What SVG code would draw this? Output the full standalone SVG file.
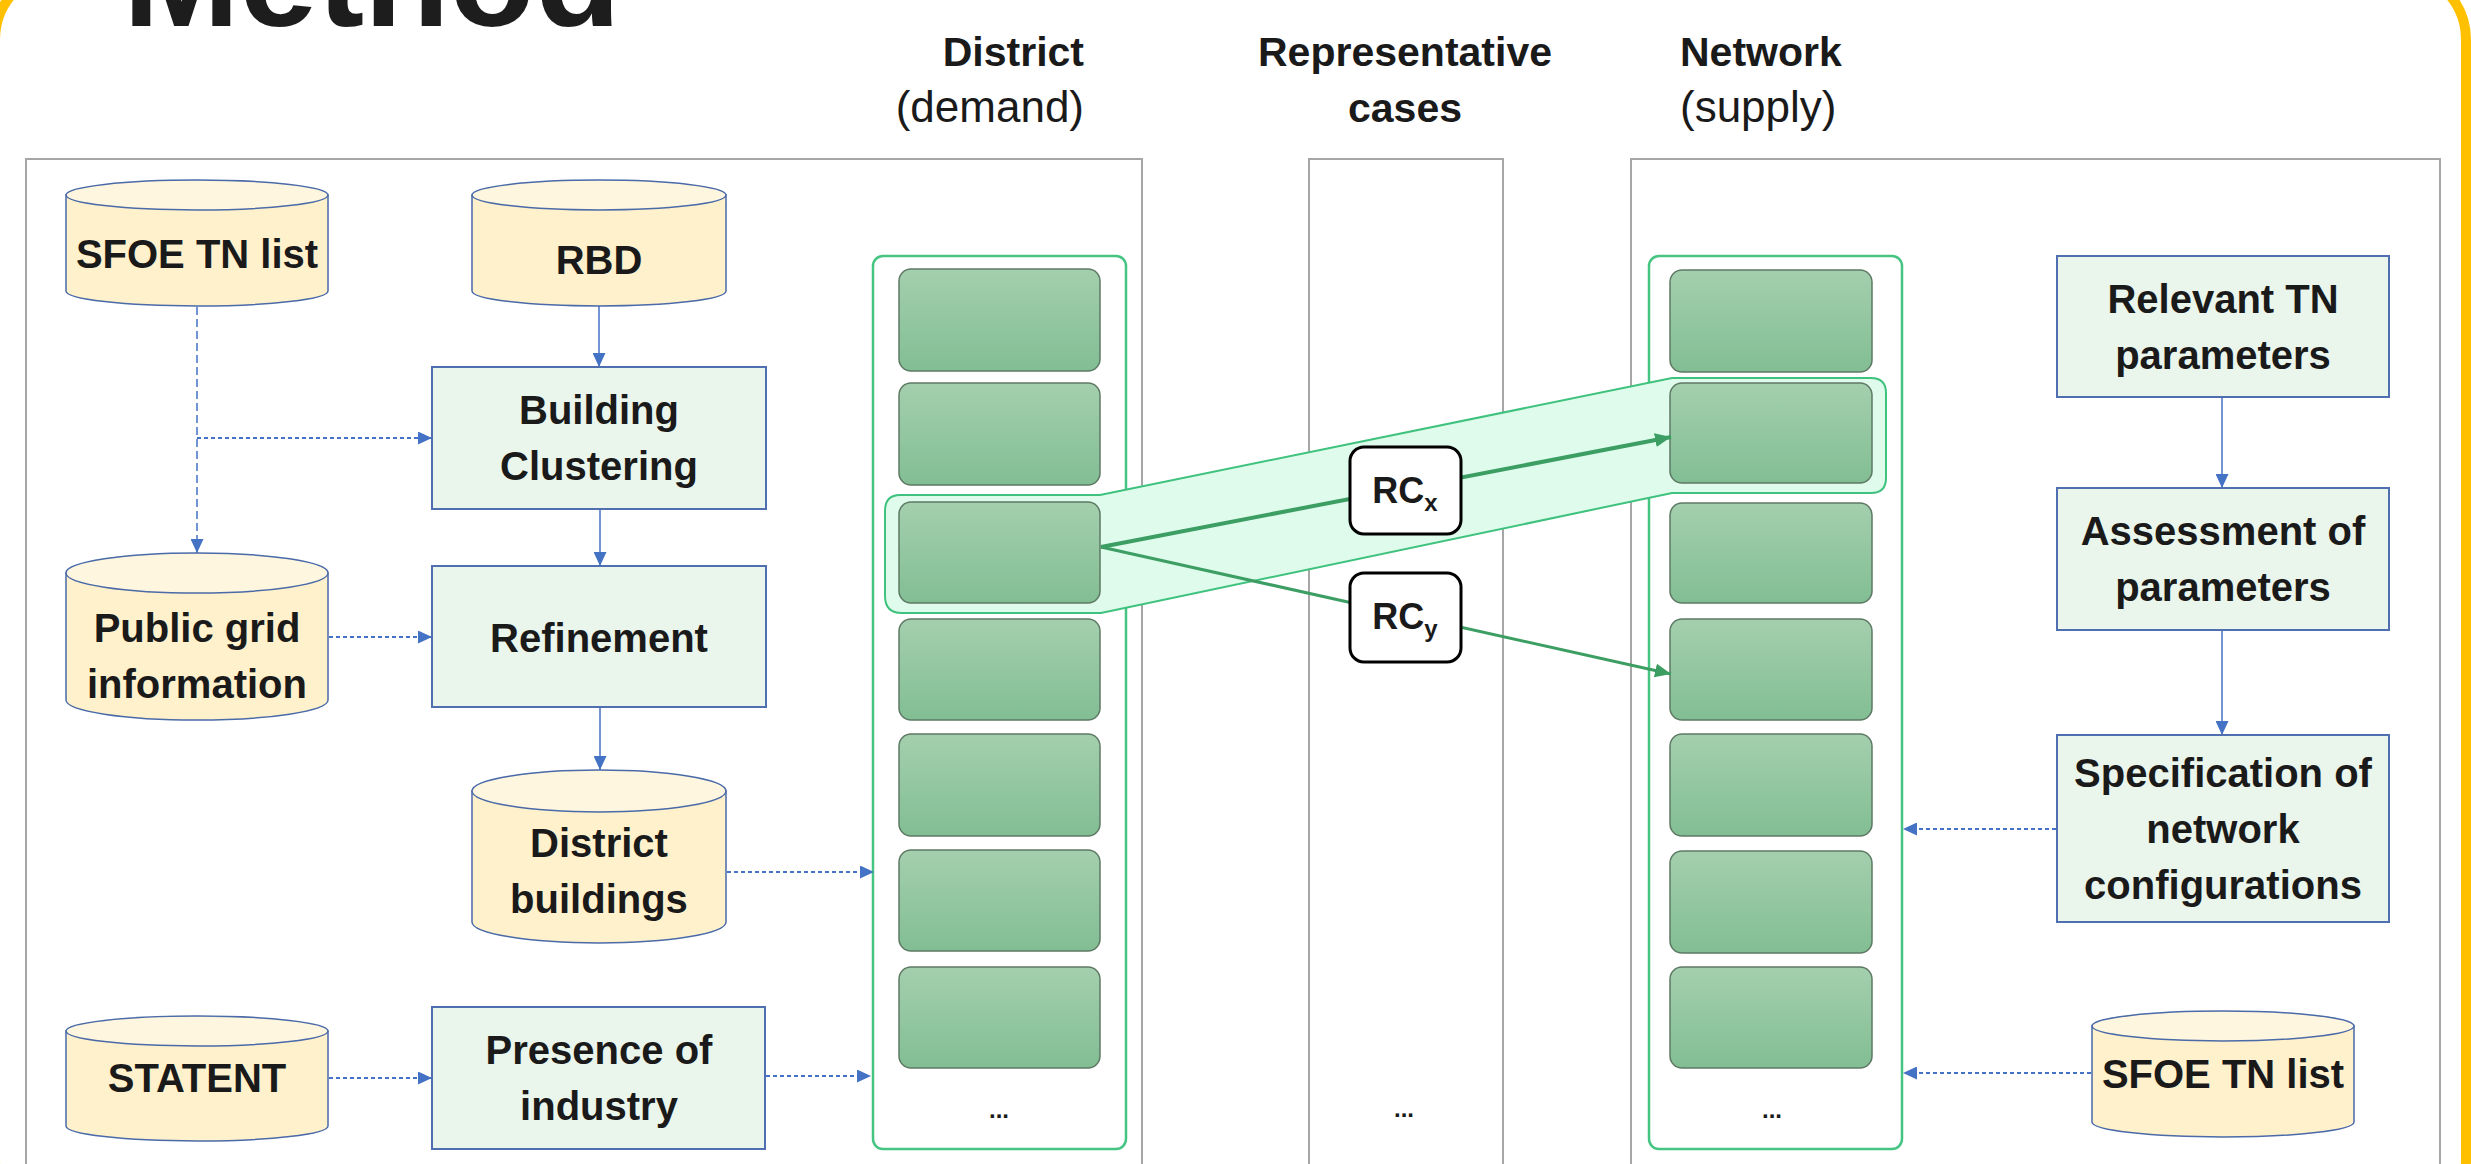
<svg xmlns="http://www.w3.org/2000/svg" width="2471" height="1164" viewBox="0 0 2471 1164">
<defs>
<linearGradient id="gr" x1="0" y1="0" x2="0" y2="1">
<stop offset="0" stop-color="#A4CFAE"/>
<stop offset="1" stop-color="#82BE93"/>
</linearGradient>
<marker id="ab" markerUnits="userSpaceOnUse" viewBox="0 0 14 13" markerWidth="14" markerHeight="13" refX="14" refY="6.5" orient="auto">
<path d="M0,0 L14,6.5 L0,13 Z" fill="#4472C4"/>
</marker>
<marker id="ag" markerUnits="userSpaceOnUse" viewBox="0 0 16 14" markerWidth="16" markerHeight="14" refX="16" refY="7" orient="auto">
<path d="M0,0 L16,7 L0,14 Z" fill="#3C9E63"/>
</marker>
<style>
.t{font-family:"Liberation Sans",Arial,sans-serif;font-weight:bold;fill:#1a1a1a;text-anchor:middle}
.b{font-size:40px}
.d{font-size:24px}
.rct{font-size:36px}
.sub{font-size:24px}
.h{font-family:"Liberation Sans",Arial,sans-serif;font-size:41px;fill:#1a1a1a;font-weight:bold}
.hr{font-family:"Liberation Sans",Arial,sans-serif;font-size:44px;fill:#1a1a1a;font-weight:normal}
.cyl{fill:#FFF1CC;stroke:#4A6AA8;stroke-width:1.5}
.cyt{fill:#FFF6DF;stroke:#4A6AA8;stroke-width:1.5}
.proc{fill:#EAF5EC;stroke:#4F6FB0;stroke-width:2}
.outer{fill:#fff;stroke:#A6A6A6;stroke-width:2}
.frame{fill:#fff;stroke:#45C482;stroke-width:2.5}
.cell{fill:url(#gr);stroke:#5E7A64;stroke-width:1.5}
.sol{stroke:#4472C4;stroke-width:1.5;fill:none;marker-end:url(#ab)}
.dot{stroke:#4472C4;stroke-width:2;fill:none;stroke-dasharray:4 3;marker-end:url(#ab)}
.dash{stroke:#4472C4;stroke-width:1.5;fill:none;stroke-dasharray:8 4}
.grn{stroke:#3C9E63;fill:none;marker-end:url(#ag)}
.rc{fill:#fff;stroke:#000;stroke-width:3}
</style>
</defs>
<rect width="2471" height="1164" fill="#fff"/>
<rect x="-5" y="-30" width="2471" height="1260" rx="70" ry="70" fill="none" stroke="#FFC000" stroke-width="10"/>
<text x="123" y="26" font-family="Liberation Sans,Arial,sans-serif" font-weight="bold" font-size="140" fill="#1d1d1d">Method</text>

<g id="headers">
<text class="h" x="1084" y="66" text-anchor="end">District</text>
<text class="hr" x="1084" y="122" text-anchor="end">(demand)</text>
<text class="h" x="1405" y="66" text-anchor="middle">Representative</text>
<text class="h" x="1405" y="122" text-anchor="middle">cases</text>
<text class="h" x="1680" y="66">Network</text>
<text class="hr" x="1680" y="122">(supply)</text>
</g>

<g id="panels">
<rect class="outer" x="26" y="159" width="1116" height="1060"/>
<rect class="outer" x="1309" y="159" width="194" height="1060"/>
<rect class="outer" x="1631" y="159" width="809" height="1060"/>
<rect class="frame" x="873" y="256" width="253" height="893" rx="10"/>
<rect class="frame" x="1649" y="256" width="253" height="893" rx="10"/>
</g>

<g id="band">
<path d="M900,495 L1100,495 L1672,378 L1871,378 Q1886,378 1886,393 L1886,478 Q1886,493 1871,493 L1672,493 L1101,613 L902,613 Q885,613 885,596 L885,511 Q885,495 900,495 Z" fill="#DEFBEC" stroke="#3FC27E" stroke-width="2"/>
</g>

<g id="district-cells">
<rect class="cell" x="899" y="269" width="201" height="102" rx="12"/>
<rect class="cell" x="899" y="383" width="201" height="102" rx="12"/>
<rect class="cell" x="899" y="502" width="201" height="101" rx="12"/>
<rect class="cell" x="899" y="619" width="201" height="101" rx="12"/>
<rect class="cell" x="899" y="734" width="201" height="102" rx="12"/>
<rect class="cell" x="899" y="850" width="201" height="101" rx="12"/>
<rect class="cell" x="899" y="967" width="201" height="101" rx="12"/>
<text class="t d" x="999" y="1118">...</text>
</g>
<g id="network-cells">
<rect class="cell" x="1670" y="270" width="202" height="102" rx="12"/>
<rect class="cell" x="1670" y="383" width="202" height="100" rx="12"/>
<rect class="cell" x="1670" y="503" width="202" height="100" rx="12"/>
<rect class="cell" x="1670" y="619" width="202" height="101" rx="12"/>
<rect class="cell" x="1670" y="734" width="202" height="102" rx="12"/>
<rect class="cell" x="1670" y="851" width="202" height="102" rx="12"/>
<rect class="cell" x="1670" y="967" width="202" height="101" rx="12"/>
<text class="t d" x="1772" y="1118">...</text>
</g>
<text class="t d" x="1404" y="1117">...</text>

<g id="connectors">
<line class="sol" x1="599" y1="306" x2="599" y2="367"/>
<line class="sol" x1="600" y1="509" x2="600" y2="566"/>
<line class="sol" x1="600" y1="707" x2="600" y2="770"/>
<line class="dash" x1="197" y1="307" x2="197" y2="540"/>
<path d="M197,540 L197,553" stroke="#4472C4" stroke-width="1.5" marker-end="url(#ab)" fill="none"/>
<line class="dot" x1="197" y1="438" x2="432" y2="438"/>
<line class="dot" x1="329" y1="637" x2="432" y2="637"/>
<line class="dot" x1="727" y1="872" x2="874" y2="872"/>
<line class="dot" x1="329" y1="1078" x2="432" y2="1078"/>
<line class="dot" x1="766" y1="1076" x2="871" y2="1076"/>
<line class="sol" x1="2222" y1="397" x2="2222" y2="488"/>
<line class="sol" x1="2222" y1="630" x2="2222" y2="735"/>
<line class="dot" x1="2056" y1="829" x2="1903" y2="829"/>
<line class="dot" x1="2091" y1="1073" x2="1903" y2="1073"/>
<line class="grn" stroke-width="4" x1="1101" y1="547" x2="1671" y2="437"/>
<line class="grn" stroke-width="3" x1="1101" y1="547" x2="1671" y2="674"/>
</g>

<g id="rcx">
<rect class="rc" x="1350" y="447" width="111" height="87" rx="14"/>
<text class="t rct" x="1405" y="503">RC<tspan class="sub" dy="8">x</tspan></text>
</g>
<g id="rcy">
<rect class="rc" x="1350" y="573" width="111" height="89" rx="14"/>
<text class="t rct" x="1405" y="629">RC<tspan class="sub" dy="8">y</tspan></text>
</g>

<g id="sfoe-left">
<path class="cyl" d="M66,195 L66,291 A131,15 0 0 0 328,291 L328,195 Z"/>
<ellipse class="cyt" cx="197" cy="195" rx="131" ry="15"/>
<text class="t b" x="197" y="268">SFOE TN list</text>
</g>
<g id="rbd">
<path class="cyl" d="M472,195 L472,291 A127,15 0 0 0 726,291 L726,195 Z"/>
<ellipse class="cyt" cx="599" cy="195" rx="127" ry="15"/>
<text class="t b" x="599" y="274">RBD</text>
</g>
<g id="public-grid">
<path class="cyl" d="M66,573 L66,700 A131,20 0 0 0 328,700 L328,573 Z"/>
<ellipse class="cyt" cx="197" cy="573" rx="131" ry="20"/>
<text class="t b" x="197" y="642">Public grid</text>
<text class="t b" x="197" y="698">information</text>
</g>
<g id="district-buildings">
<path class="cyl" d="M472,791 L472,922 A127,21 0 0 0 726,922 L726,791 Z"/>
<ellipse class="cyt" cx="599" cy="791" rx="127" ry="21"/>
<text class="t b" x="599" y="857">District</text>
<text class="t b" x="599" y="913">buildings</text>
</g>
<g id="statent">
<path class="cyl" d="M66,1031 L66,1126 A131,15 0 0 0 328,1126 L328,1031 Z"/>
<ellipse class="cyt" cx="197" cy="1031" rx="131" ry="15"/>
<text class="t b" x="197" y="1092">STATENT</text>
</g>
<g id="sfoe-right">
<path class="cyl" d="M2092,1026 L2092,1122 A131,15 0 0 0 2354,1122 L2354,1026 Z"/>
<ellipse class="cyt" cx="2223" cy="1026" rx="131" ry="15"/>
<text class="t b" x="2223" y="1088">SFOE TN list</text>
</g>

<g id="building-clustering">
<rect class="proc" x="432" y="367" width="334" height="142"/>
<text class="t b" x="599" y="424">Building</text>
<text class="t b" x="599" y="480">Clustering</text>
</g>
<g id="refinement">
<rect class="proc" x="432" y="566" width="334" height="141"/>
<text class="t b" x="599" y="652">Refinement</text>
</g>
<g id="presence">
<rect class="proc" x="432" y="1007" width="333" height="142"/>
<text class="t b" x="599" y="1064">Presence of</text>
<text class="t b" x="599" y="1120">industry</text>
</g>
<g id="relevant">
<rect class="proc" x="2057" y="256" width="332" height="141"/>
<text class="t b" x="2223" y="313">Relevant TN</text>
<text class="t b" x="2223" y="369">parameters</text>
</g>
<g id="assessment">
<rect class="proc" x="2057" y="488" width="332" height="142"/>
<text class="t b" x="2223" y="545">Assessment of</text>
<text class="t b" x="2223" y="601">parameters</text>
</g>
<g id="specification">
<rect class="proc" x="2057" y="735" width="332" height="187"/>
<text class="t b" x="2223" y="787">Specification of</text>
<text class="t b" x="2223" y="843">network</text>
<text class="t b" x="2223" y="899">configurations</text>
</g>
</svg>
